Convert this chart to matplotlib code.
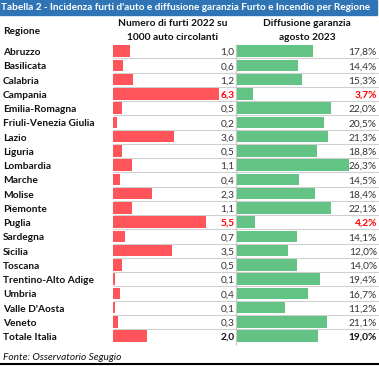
import numpy as np
import matplotlib
matplotlib.use("Agg")
import matplotlib.pyplot as plt
import matplotlib.transforms as mtransforms

# data
regioni = ["Abruzzo", "Basilicata", "Calabria", "Campania", "Emilia-Romagna",
           "Friuli-Venezia Giulia", "Lazio", "Liguria", "Lombardia", "Marche",
           "Molise", "Piemonte", "Puglia", "Sardegna", "Sicilia", "Toscana",
           "Trentino-Alto Adige", "Umbria", "Valle D'Aosta", "Veneto", "Totale Italia"]
furti = [1.0, 0.6, 1.2, 6.3, 0.5, 0.2, 3.6, 0.5, 1.1, 0.4,
         2.3, 1.1, 5.5, 0.7, 3.5, 0.5, 0.1, 0.4, 0.1, 0.3, 2.0]
diffusione = [17.8, 14.4, 15.3, 3.7, 22.0, 20.5, 21.3, 18.8, 26.3, 14.5,
              18.4, 22.1, 4.2, 14.1, 12.0, 14.0, 19.4, 16.7, 11.2, 21.1, 19.0]
evidenziate = ["Campania", "Puglia"]

titolo = "Tabella 2 - Incidenza furti d'auto e diffusione garanzia Furto e Incendio per Regione"
fonte = "Fonte: Osservatorio Segugio"

FONT = ["Liberation Sans Narrow", "Lato", "DejaVu Sans"]
plt.rcParams["font.family"] = FONT

W, H = 379, 366
fig = plt.figure(figsize=(W / 100, H / 100), dpi=100)

bg = fig.add_axes([0, 0, 1, 1])
bg.set_xlim(0, W)
bg.set_ylim(H, 0)
bg.axis("off")


def px_axes(left, top, right, bottom):
    ax = fig.add_axes([left / W, 1 - bottom / H, (right - left) / W, (bottom - top) / H])
    ax.axis("off")
    return ax


n = len(regioni)
row_top, pitch = 44.05, 14.25
rows = np.arange(n)
fs = 7.3
dark = "#111111"

# title bar
bg.add_patch(plt.Rectangle((0, 0), 377, 15, color="#2F75B5", zorder=1))
bg.text(1, 7.8, titolo, color="white", fontsize=7.2, fontweight="bold", va="center", ha="left")

# headers
bg.text(3, 31, "Regione", fontsize=fs, fontweight="bold", va="center", color=dark)
bg.text(173, 23, "Numero di furti 2022 su", fontsize=fs, fontweight="bold", va="center", ha="center", color=dark)
bg.text(173, 37.5, "1000 auto circolanti", fontsize=fs, fontweight="bold", va="center", ha="center", color=dark)
bg.text(307, 23, "Diffusione garanzia", fontsize=fs, fontweight="bold", va="center", ha="center", color=dark)
bg.text(307, 37.5, "agosto 2023", fontsize=fs, fontweight="bold", va="center", ha="center", color=dark)

# grid lines
bottom = row_top + n * pitch
bg.hlines(row_top + pitch * np.arange(1, n), 113.3, W, color="#D0D0D0", lw=0.8, zorder=0)
bg.vlines(236, row_top, bottom + 2, color="#C8C8C8", lw=0.8, zorder=0)

# bars
ax_r = px_axes(113.3, row_top, 236, bottom)
ax_r.barh(rows, furti, height=0.81, color="#FF555A", zorder=2)
ax_r.set_xlim(0, (236 - 113.3) / 16.8)
ax_r.set_ylim(n - 0.5, -0.5)

ax_g = px_axes(237.3, row_top, W, bottom)
ax_g.barh(rows, diffusione, height=0.81, color="#63C384", zorder=2)
ax_g.set_xlim(0, (W - 237.3) / 4.24)
ax_g.set_ylim(n - 0.5, -0.5)

tr_r = mtransforms.blended_transform_factory(ax_r.transAxes, ax_r.transData)
tr_g = mtransforms.blended_transform_factory(ax_g.transAxes, ax_g.transData)
tr_bg = mtransforms.blended_transform_factory(bg.transData, ax_r.transData)

for i, (reg, f, d) in enumerate(zip(regioni, furti, diffusione)):
    y = i + 0.1
    if reg in evidenziate:
        col, w = "#FF0000", "bold"
    elif reg == "Totale Italia":
        col, w = dark, "bold"
    else:
        col, w = "#333333", "normal"
    bg.text(3, y, reg, transform=tr_bg, fontsize=fs, fontweight="bold", va="center", color=dark)
    ax_r.text(0.988, y, f"{f:.1f}".replace(".", ","), transform=tr_r, fontsize=fs,
              fontweight=w, color=col, va="center", ha="right", zorder=3)
    ax_g.text(0.985, y, f"{d:.1f}%".replace(".", ","), transform=tr_g, fontsize=fs,
              fontweight=w, color=col, va="center", ha="right", zorder=3)

# footer
bg.text(3, 357, fonte, fontsize=fs, fontstyle="italic", va="center", color=dark)
bg.hlines(364, 0, W, color="black", lw=1.5)

fig.savefig("out.png", dpi=100)
